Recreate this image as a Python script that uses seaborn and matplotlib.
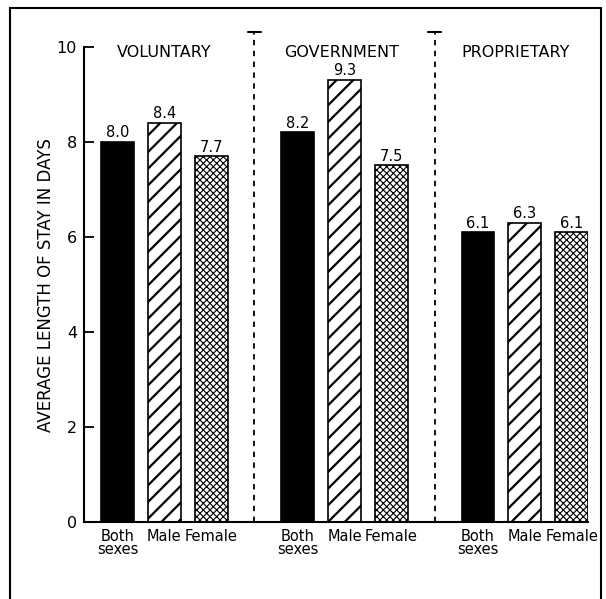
import matplotlib
matplotlib.use("Agg")
import matplotlib.pyplot as plt
import seaborn as sns
import pandas as pd
from matplotlib.patches import Rectangle

# --- data -------------------------------------------------------------
ownership = ["VOLUNTARY", "GOVERNMENT", "PROPRIETARY"]
sexes = ["Both sexes", "Male", "Female"]
sex_ticks = ["Both\nsexes", "Male", "Female"]
voluntary = [8.0, 8.4, 7.7]
government = [8.2, 9.3, 7.5]
proprietary = [6.1, 6.3, 6.1]
y_ticks = [0, 2, 4, 6, 8, 10]

df = pd.DataFrame({
    "ownership": [o for o in ownership for _ in sexes],
    "sex": sexes * len(ownership),
    "days": voluntary + government + proprietary,
})

sns.set_theme(style="white")
plt.rcParams['font.family'] = ['DejaVu Sans']
plt.rcParams['hatch.linewidth'] = 1.6
for k in ("text.color", "axes.labelcolor", "xtick.color", "ytick.color"):
    plt.rcParams[k] = "black"

fig = plt.figure(figsize=(6.06, 5.99), dpi=100)
ax = fig.add_axes([0.1386, 0.1285, 0.8314, 0.8215])

sns.barplot(data=df, x="ownership", y="days", hue="sex", order=ownership,
            hue_order=sexes, palette=["black", "white", "white"],
            width=0.78, gap=0.3, edgecolor="black", linewidth=1.2,
            errorbar=None, legend=False, ax=ax)

# hatches: male = diagonal stripes, female = fine crosshatch
for bar in ax.containers[1]:
    bar.set_hatch("//")
for bar in ax.containers[2]:
    bar.set_hatch("xxxxx")
    if hasattr(bar, "set_hatch_linewidth"):
        bar.set_hatch_linewidth(0.8)

for cont in ax.containers:
    ax.bar_label(cont, fmt="%.1f", padding=1, fontsize=10.5)

# tick under every bar
ticks = []
for h, cont in enumerate(ax.containers):
    for bar in cont:
        ticks.append((bar.get_x() + bar.get_width() / 2, sex_ticks[h]))
ticks.sort()
ax.set_xticks([t[0] for t in ticks])
ax.set_xticklabels([t[1] for t in ticks], fontsize=10.5, linespacing=0.8)
last = ax.containers[-1][-1]
right_edge = last.get_x() + last.get_width()

ax.set_xlim(-0.446, 2.35)
ax.set_ylim(0, 10.35)
ax.set_yticks(y_ticks)
ax.set_yticklabels([str(v) for v in y_ticks], fontsize=11.5)
ax.tick_params(axis="y", direction="in", length=7, width=1.3, left=True, pad=5)
ax.tick_params(axis="x", length=0, pad=5)
ax.set_xlabel("")
ax.set_ylabel("AVERAGE LENGTH OF STAY IN DAYS", fontsize=12)
ax.yaxis.set_label_coords(-0.0575, 0.482)

sns.despine(ax=ax)
ax.spines["left"].set_bounds(0, 10)
ax.spines["bottom"].set_bounds(-0.446, right_edge)
for s in ("left", "bottom"):
    ax.spines[s].set_linewidth(1.5)
    ax.spines[s].set_color("black")

# dashed dividers between ownership groups, with a T cap
for xd in (0.5, 1.5):
    ax.plot([xd, xd], [0, 10.3], color="black", lw=1.3, ls=(0, (3, 3)), clip_on=False)
    ax.plot([xd - 0.035, xd + 0.035], [10.3, 10.3], color="black", lw=1.5, clip_on=False)

title_shift = [0.0, -0.017, -0.05]
for i, name in enumerate(ownership):
    ax.text(i + title_shift[i], 9.88, name, ha="center", va="center", fontsize=11.5)

# outer frame
fig.add_artist(Rectangle((0.0165, -0.01), 0.9755, 0.9966, transform=fig.transFigure,
                         fill=False, edgecolor="black", lw=1.5))

fig.savefig("out.png", dpi=100)
